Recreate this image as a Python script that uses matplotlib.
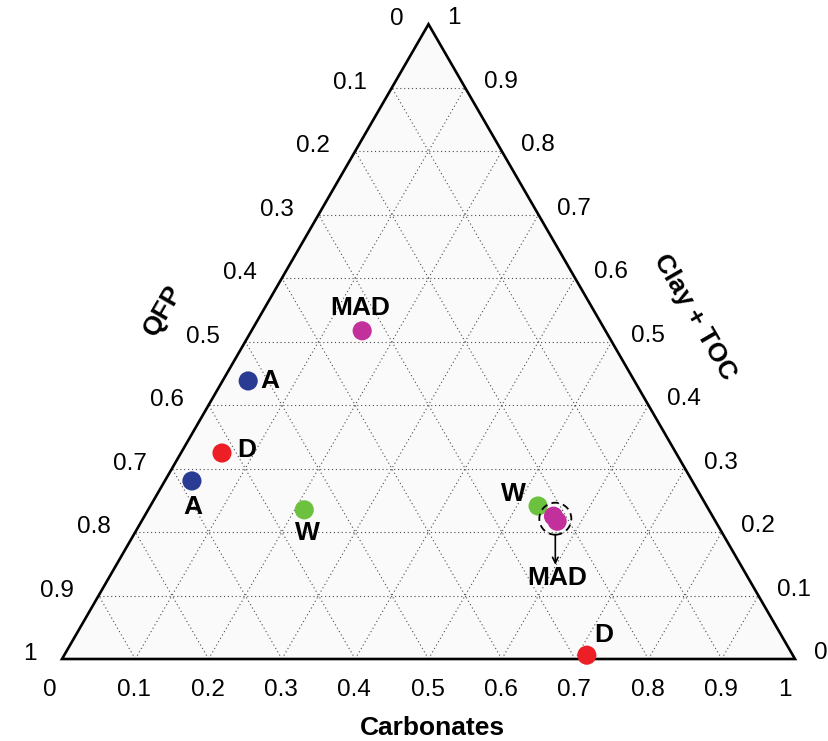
import numpy as np
import matplotlib
matplotlib.use("Agg")
import matplotlib.pyplot as plt
from matplotlib.patches import Polygon, Circle

plt.rcParams['font.family'] = ['Liberation Sans', 'DejaVu Sans']

# compositions (carbonates, clay + TOC); QFP = 1 - both
groups = ["A", "D", "W", "MAD"]
colors = {"A": "#2a3b93", "D": "#ec1f26", "W": "#6cc13e", "MAD": "#c2309c"}
carbonates = {"A": [0.035, 0.037], "D": [0.056, 0.713], "W": [0.213, 0.529],
              "MAD": [0.151, 0.558, 0.567]}
clay_toc = {"A": [0.438, 0.2805], "D": [0.3245, 0.006], "W": [0.235, 0.241],
            "MAD": [0.517, 0.225, 0.217]}

# label offset (px) for each point; None = labelled through the circle/arrow
label_offsets = {"A": [(22, 0), (1, -26)], "D": [(25, 3), (17, 20)],
                 "W": [(3, -23), (-25, 12)], "MAD": [(-2, 23), None, None]}

ticks = np.round(np.arange(0, 1.01, 0.1), 1)
tick_labels = ["0" if t == 0 else "1" if t == 1 else f"{t:.1f}" for t in ticks]

H = np.sqrt(3) / 2


def to_xy(c, k):
    c = np.asarray(c, float)
    k = np.asarray(k, float)
    return c + k / 2, k * H


W_px, H_px = 829, 741
fig = plt.figure(figsize=(W_px / 100, H_px / 100), dpi=100)
ax = fig.add_axes([0, 0, 1, 1])
S = 733.0
ax.set_xlim(-62 / S, (W_px - 62) / S)
ax.set_ylim(-(H_px - 659) / S, 659 / S)
ax.axis("off")

# triangle
tri = Polygon([(0, 0), (1, 0), (0.5, H)], closed=True, facecolor="#fafafa",
              edgecolor="none", zorder=1)
ax.add_patch(tri)

# grid
gkw = dict(color="0.3", lw=0.8, ls=(0, (1, 2.5)), zorder=2)
for v in ticks[1:-1]:
    ax.plot([v / 2, 1 - v / 2], [v * H, v * H], **gkw)
    ax.plot([v, v + (1 - v) / 2], [0, (1 - v) * H], **gkw)
    ax.plot([1 - v, (1 - v) / 2], [0, (1 - v) * H], **gkw)
ax.add_patch(Polygon([(0, 0), (1, 0), (0.5, H)], closed=True, fill=False,
                     edgecolor="black", lw=1.9, zorder=3, joinstyle="miter"))

px = 0.72  # points per pixel
tfs = 17.5
for t, lab in zip(ticks, tick_labels):
    # carbonates along bottom
    dx = -12 if t == 0 else -10 if t == 1 else -1
    ax.annotate(lab, (t, 0), xytext=(dx * px, -31 * px), textcoords="offset points",
                ha="center", va="center", fontsize=tfs)
    # QFP on left edge
    k = 1 - t
    ax.annotate(lab, to_xy(0, k), xytext=(-25 * px, 5 * px), textcoords="offset points",
                ha="right", va="center", fontsize=tfs)
    # clay + TOC on right edge
    ax.annotate(lab, to_xy(1 - t, t), xytext=(19 * px, 6 * px), textcoords="offset points",
                ha="left", va="center", fontsize=tfs)

# axis titles
ax.text((432 - 62) / S, (659 - 728) / S, "Carbonates", ha="center", va="center",
        fontsize=19, fontweight="bold")
ax.text((163 - 62) / S, (659 - 310) / S, "QFP", ha="center", va="center",
        fontsize=19, fontweight="bold", rotation=60)
ax.text((695 - 62) / S, (659 - 317) / S, "Clay + TOC", ha="center", va="center",
        fontsize=19, fontweight="bold", rotation=-60)

# points and labels
for g in groups:
    x, y = to_xy(carbonates[g], clay_toc[g])
    ax.scatter(x, y, s=190, color=colors[g], edgecolors="none", zorder=5)
    for xi, yi, off in zip(x, y, label_offsets[g]):
        if off is None:
            continue
        ax.annotate(g, (xi, yi), xytext=(off[0] * px, off[1] * px),
                    textcoords="offset points", ha="center", va="center",
                    fontsize=19, fontweight="bold", zorder=6)

# circled MAD pair with arrow
mx, my = to_xy(carbonates["MAD"][1:], clay_toc["MAD"][1:])
cx, cy = mx.mean(), my.mean()
r = 16 / S
ax.add_patch(Circle((cx, cy), r, fill=False, ls=(0, (4, 2.5)), lw=1.3,
                    edgecolor="black", zorder=6))
ax.annotate("", xy=(cx, cy - r - 30 / S), xytext=(cx, cy - r),
            arrowprops=dict(arrowstyle="->", lw=1.2, color="black",
                            shrinkA=0, shrinkB=0), zorder=6)
ax.text(cx + 2 / S, cy - r - 43 / S, "MAD", ha="center", va="center",
        fontsize=19, fontweight="bold")

fig.savefig("out.png", dpi=100)
